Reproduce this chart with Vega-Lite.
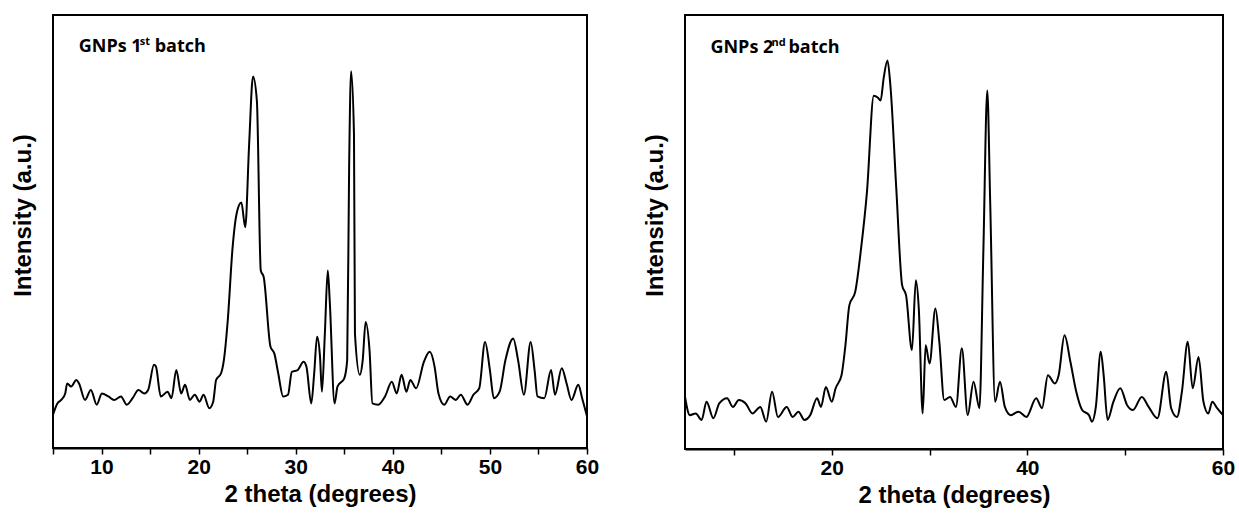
{
  "$schema": "https://vega.github.io/schema/vega-lite/v6.json",
  "background": "white",
  "padding": {"left": 10, "top": 14, "right": 0, "bottom": 0},
  "spacing": 42,
  "config": {
    "view": {"stroke": "black", "strokeWidth": 2},
    "font": "Liberation Sans",
    "axis": {"grid": false, "titleFont": "Liberation Sans", "titleFontWeight": "bold", "titleFontSize": 24, "titleColor": "black", "labelFont": "Liberation Sans", "labelFontWeight": "bold", "labelFontSize": 21, "labelColor": "black"}
  },
  "datasets": {
    "b1": [
      {"theta": 5.0, "intensity": 7.7}, {"theta": 5.45, "intensity": 10.3}, {"theta": 5.85, "intensity": 11.1}, {"theta": 6.26, "intensity": 12.6}, {"theta": 6.46, "intensity": 14.9}, {"theta": 6.87, "intensity": 14.2}, {"theta": 7.4, "intensity": 15.7}, {"theta": 7.68, "intensity": 14.9}, {"theta": 8.3, "intensity": 11.1}, {"theta": 8.9, "intensity": 13.4}, {"theta": 9.5, "intensity": 10.0}, {"theta": 10.04, "intensity": 12.6}, {"theta": 10.7, "intensity": 11.9}, {"theta": 11.3, "intensity": 11.1}, {"theta": 12.0, "intensity": 11.9}, {"theta": 12.6, "intensity": 10.0}, {"theta": 13.2, "intensity": 11.5}, {"theta": 13.8, "intensity": 13.4}, {"theta": 14.4, "intensity": 12.6}, {"theta": 14.8, "intensity": 13.4}, {"theta": 15.4, "intensity": 19.2}, {"theta": 15.6, "intensity": 18.8}, {"theta": 16.1, "intensity": 11.9}, {"theta": 16.8, "intensity": 13.0}, {"theta": 17.2, "intensity": 11.5}, {"theta": 17.7, "intensity": 18.0}, {"theta": 18.2, "intensity": 12.6}, {"theta": 18.6, "intensity": 14.6}, {"theta": 19.1, "intensity": 11.1}, {"theta": 19.6, "intensity": 12.3}, {"theta": 20.1, "intensity": 10.7}, {"theta": 20.5, "intensity": 12.3}, {"theta": 21.1, "intensity": 9.2}, {"theta": 21.5, "intensity": 10.7}, {"theta": 21.8, "intensity": 15.7}, {"theta": 22.3, "intensity": 17.2}, {"theta": 22.6, "intensity": 20.3}, {"theta": 23.0, "intensity": 29.5}, {"theta": 23.5, "intensity": 46.4}, {"theta": 23.9, "intensity": 54.0}, {"theta": 24.4, "intensity": 56.7}, {"theta": 24.8, "intensity": 51.0}, {"theta": 25.2, "intensity": 70.1}, {"theta": 25.6, "intensity": 85.8}, {"theta": 26.0, "intensity": 80.1}, {"theta": 26.4, "intensity": 41.0}, {"theta": 26.7, "intensity": 39.5}, {"theta": 27.4, "intensity": 23.4}, {"theta": 27.8, "intensity": 21.8}, {"theta": 28.2, "intensity": 17.2}, {"theta": 28.7, "intensity": 11.9}, {"theta": 29.2, "intensity": 12.3}, {"theta": 29.6, "intensity": 17.6}, {"theta": 30.2, "intensity": 18.0}, {"theta": 30.8, "intensity": 19.9}, {"theta": 31.1, "intensity": 18.8}, {"theta": 31.6, "intensity": 10.3}, {"theta": 31.9, "intensity": 17.2}, {"theta": 32.2, "intensity": 25.7}, {"theta": 32.5, "intensity": 21.1}, {"theta": 32.7, "intensity": 13.0}, {"theta": 33.0, "intensity": 26.4}, {"theta": 33.3, "intensity": 41.0}, {"theta": 33.5, "intensity": 34.1}, {"theta": 34.0, "intensity": 10.3}, {"theta": 34.3, "intensity": 14.2}, {"theta": 35.0, "intensity": 16.1}, {"theta": 35.3, "intensity": 20.3}, {"theta": 35.5, "intensity": 64.8}, {"theta": 35.7, "intensity": 87.0}, {"theta": 36.0, "intensity": 72.4}, {"theta": 36.1, "intensity": 26.4}, {"theta": 36.6, "intensity": 16.9}, {"theta": 36.9, "intensity": 20.3}, {"theta": 37.2, "intensity": 29.1}, {"theta": 37.6, "intensity": 22.6}, {"theta": 37.9, "intensity": 10.3}, {"theta": 38.5, "intensity": 10.0}, {"theta": 39.2, "intensity": 11.9}, {"theta": 39.9, "intensity": 15.3}, {"theta": 40.4, "intensity": 12.6}, {"theta": 40.9, "intensity": 16.9}, {"theta": 41.4, "intensity": 13.0}, {"theta": 41.8, "intensity": 15.7}, {"theta": 42.4, "intensity": 13.8}, {"theta": 43.2, "intensity": 19.9}, {"theta": 43.8, "intensity": 22.2}, {"theta": 44.3, "intensity": 18.8}, {"theta": 44.7, "intensity": 12.6}, {"theta": 45.3, "intensity": 10.0}, {"theta": 45.9, "intensity": 11.9}, {"theta": 46.5, "intensity": 11.1}, {"theta": 47.0, "intensity": 12.3}, {"theta": 47.7, "intensity": 10.0}, {"theta": 48.3, "intensity": 12.3}, {"theta": 48.9, "intensity": 13.8}, {"theta": 49.5, "intensity": 24.5}, {"theta": 50.0, "intensity": 18.0}, {"theta": 50.4, "intensity": 11.5}, {"theta": 51.0, "intensity": 13.0}, {"theta": 51.6, "intensity": 20.3}, {"theta": 52.4, "intensity": 25.3}, {"theta": 52.9, "intensity": 20.3}, {"theta": 53.5, "intensity": 12.3}, {"theta": 54.2, "intensity": 24.5}, {"theta": 54.6, "intensity": 18.0}, {"theta": 54.9, "intensity": 11.9}, {"theta": 55.6, "intensity": 11.5}, {"theta": 56.3, "intensity": 18.0}, {"theta": 56.7, "intensity": 12.3}, {"theta": 57.4, "intensity": 18.4}, {"theta": 57.9, "intensity": 14.9}, {"theta": 58.4, "intensity": 11.1}, {"theta": 59.1, "intensity": 14.6}, {"theta": 59.5, "intensity": 11.5}, {"theta": 60.0, "intensity": 7.3}
    ],
    "b2": [
      {"theta": 5.0, "intensity": 12.0}, {"theta": 5.5, "intensity": 7.8}, {"theta": 6.1, "intensity": 8.2}, {"theta": 6.7, "intensity": 6.7}, {"theta": 7.2, "intensity": 10.9}, {"theta": 7.9, "intensity": 7.1}, {"theta": 8.5, "intensity": 10.5}, {"theta": 9.3, "intensity": 11.7}, {"theta": 9.9, "intensity": 9.7}, {"theta": 10.5, "intensity": 11.3}, {"theta": 11.2, "intensity": 10.5}, {"theta": 11.9, "intensity": 8.2}, {"theta": 12.7, "intensity": 9.7}, {"theta": 13.3, "intensity": 6.3}, {"theta": 13.9, "intensity": 13.2}, {"theta": 14.5, "intensity": 7.4}, {"theta": 15.4, "intensity": 9.7}, {"theta": 16.0, "intensity": 7.4}, {"theta": 16.6, "intensity": 8.6}, {"theta": 17.2, "intensity": 6.7}, {"theta": 17.8, "intensity": 7.8}, {"theta": 18.5, "intensity": 11.7}, {"theta": 18.9, "intensity": 9.7}, {"theta": 19.4, "intensity": 14.3}, {"theta": 20.0, "intensity": 10.9}, {"theta": 20.4, "intensity": 14.0}, {"theta": 21.0, "intensity": 17.0}, {"theta": 21.4, "intensity": 23.9}, {"theta": 21.8, "intensity": 33.1}, {"theta": 22.4, "intensity": 36.2}, {"theta": 23.0, "intensity": 46.2}, {"theta": 23.6, "intensity": 59.2}, {"theta": 24.3, "intensity": 81.4}, {"theta": 24.7, "intensity": 81.0}, {"theta": 25.0, "intensity": 80.3}, {"theta": 25.3, "intensity": 85.3}, {"theta": 25.7, "intensity": 89.5}, {"theta": 26.0, "intensity": 83.7}, {"theta": 26.6, "intensity": 60.0}, {"theta": 27.2, "intensity": 37.7}, {"theta": 27.6, "intensity": 35.4}, {"theta": 28.2, "intensity": 22.8}, {"theta": 28.6, "intensity": 38.9}, {"theta": 28.9, "intensity": 32.4}, {"theta": 29.3, "intensity": 8.2}, {"theta": 29.6, "intensity": 23.9}, {"theta": 30.0, "intensity": 19.7}, {"theta": 30.6, "intensity": 32.4}, {"theta": 31.0, "intensity": 24.7}, {"theta": 31.5, "intensity": 11.3}, {"theta": 32.1, "intensity": 12.0}, {"theta": 32.7, "intensity": 9.7}, {"theta": 33.3, "intensity": 23.2}, {"theta": 33.9, "intensity": 7.8}, {"theta": 34.5, "intensity": 15.5}, {"theta": 35.1, "intensity": 9.4}, {"theta": 35.5, "intensity": 45.4}, {"theta": 35.9, "intensity": 82.6}, {"theta": 36.2, "intensity": 56.9}, {"theta": 36.7, "intensity": 10.9}, {"theta": 37.2, "intensity": 15.5}, {"theta": 37.7, "intensity": 9.7}, {"theta": 38.3, "intensity": 7.8}, {"theta": 39.1, "intensity": 8.6}, {"theta": 39.9, "intensity": 7.4}, {"theta": 40.9, "intensity": 11.7}, {"theta": 41.5, "intensity": 9.4}, {"theta": 42.1, "intensity": 17.0}, {"theta": 42.8, "intensity": 15.1}, {"theta": 43.2, "intensity": 17.0}, {"theta": 43.8, "intensity": 26.2}, {"theta": 44.4, "intensity": 20.1}, {"theta": 45.0, "intensity": 13.2}, {"theta": 45.6, "intensity": 9.0}, {"theta": 46.3, "intensity": 7.8}, {"theta": 46.6, "intensity": 6.3}, {"theta": 47.0, "intensity": 9.7}, {"theta": 47.5, "intensity": 22.4}, {"theta": 47.8, "intensity": 17.0}, {"theta": 48.2, "intensity": 6.7}, {"theta": 48.8, "intensity": 10.9}, {"theta": 49.5, "intensity": 14.0}, {"theta": 50.2, "intensity": 10.1}, {"theta": 50.8, "intensity": 9.0}, {"theta": 51.7, "intensity": 12.0}, {"theta": 52.4, "intensity": 9.7}, {"theta": 53.3, "intensity": 7.1}, {"theta": 54.2, "intensity": 17.8}, {"theta": 54.7, "intensity": 9.4}, {"theta": 55.3, "intensity": 7.4}, {"theta": 55.8, "intensity": 13.2}, {"theta": 56.4, "intensity": 24.7}, {"theta": 56.9, "intensity": 14.0}, {"theta": 57.5, "intensity": 21.2}, {"theta": 58.0, "intensity": 10.9}, {"theta": 58.5, "intensity": 8.2}, {"theta": 58.9, "intensity": 10.9}, {"theta": 59.4, "intensity": 9.4}, {"theta": 60.0, "intensity": 7.8}
    ],
    "one": [{}]
  },
  "hconcat": [
    {
      "width": 534,
      "height": 433,
      "layer": [
        {
          "data": {"name": "b1"},
          "mark": {"type": "line", "color": "black", "strokeWidth": 2, "interpolate": "monotone"},
          "encoding": {
            "x": {"field": "theta", "type": "quantitative", "scale": {"domain": [5, 60], "nice": false, "zero": false},
              "axis": {"title": "2 theta (degrees)", "values": [5, 10, 15, 20, 25, 30, 35, 40, 45, 50, 55, 60], "labelExpr": "datum.value % 10 === 0 ? datum.label : ''", "tickSize": 6, "tickWidth": 1.5, "tickColor": "black", "domainColor": "black", "domainWidth": 2, "labelPadding": 2, "titlePadding": 5, "labelFlush": false}},
            "y": {"field": "intensity", "type": "quantitative", "scale": {"domain": [0, 100], "nice": false},
              "axis": {"title": "Intensity (a.u.)", "labels": false, "ticks": false, "domain": false, "titlePadding": 18, "titleY": 200}}
          }
        },
        {
          "data": {"name": "one"},
          "mark": {"type": "text", "align": "left", "baseline": "alphabetic", "font": "Open Sans", "fontWeight": "bold", "fontSize": 18, "color": "black"},
          "encoding": {"x": {"datum": 7.65}, "y": {"datum": 91.5}, "text": {"value": "GNPs 1"}}
        },
        {
          "data": {"name": "one"},
          "mark": {"type": "text", "align": "left", "baseline": "alphabetic", "font": "Open Sans", "fontWeight": "bold", "fontSize": 11, "color": "black", "dx": 61, "dy": -7},
          "encoding": {"x": {"datum": 7.65}, "y": {"datum": 91.5}, "text": {"value": "st"}}
        },
        {
          "data": {"name": "one"},
          "mark": {"type": "text", "align": "left", "baseline": "alphabetic", "font": "Open Sans", "fontWeight": "bold", "fontSize": 18, "color": "black", "dx": 76},
          "encoding": {"x": {"datum": 7.65}, "y": {"datum": 91.5}, "text": {"value": "batch"}}
        }
      ]
    },
    {
      "width": 538,
      "height": 434,
      "layer": [
        {
          "data": {"name": "b2"},
          "mark": {"type": "line", "color": "black", "strokeWidth": 2, "interpolate": "monotone"},
          "encoding": {
            "x": {"field": "theta", "type": "quantitative", "scale": {"domain": [5, 60], "nice": false, "zero": false},
              "axis": {"title": "2 theta (degrees)", "values": [10, 20, 30, 40, 50, 60], "labelExpr": "datum.value % 20 === 0 ? datum.label : ''", "tickSize": 6, "tickWidth": 1.5, "tickColor": "black", "domainColor": "black", "domainWidth": 2, "labelPadding": 2, "titlePadding": 5, "labelFlush": false}},
            "y": {"field": "intensity", "type": "quantitative", "scale": {"domain": [0, 100], "nice": false},
              "axis": {"title": "Intensity (a.u.)", "labels": false, "ticks": false, "domain": false, "titlePadding": 18, "titleY": 200}}
          }
        },
        {
          "data": {"name": "one"},
          "mark": {"type": "text", "align": "left", "baseline": "alphabetic", "font": "Open Sans", "fontWeight": "bold", "fontSize": 18, "color": "black"},
          "encoding": {"x": {"datum": 7.6}, "y": {"datum": 91.3}, "text": {"value": "GNPs 2"}}
        },
        {
          "data": {"name": "one"},
          "mark": {"type": "text", "align": "left", "baseline": "alphabetic", "font": "Open Sans", "fontWeight": "bold", "fontSize": 11, "color": "black", "dx": 61, "dy": -7},
          "encoding": {"x": {"datum": 7.6}, "y": {"datum": 91.3}, "text": {"value": "nd"}}
        },
        {
          "data": {"name": "one"},
          "mark": {"type": "text", "align": "left", "baseline": "alphabetic", "font": "Open Sans", "fontWeight": "bold", "fontSize": 18, "color": "black", "dx": 78},
          "encoding": {"x": {"datum": 7.6}, "y": {"datum": 91.3}, "text": {"value": "batch"}}
        }
      ]
    }
  ]
}
